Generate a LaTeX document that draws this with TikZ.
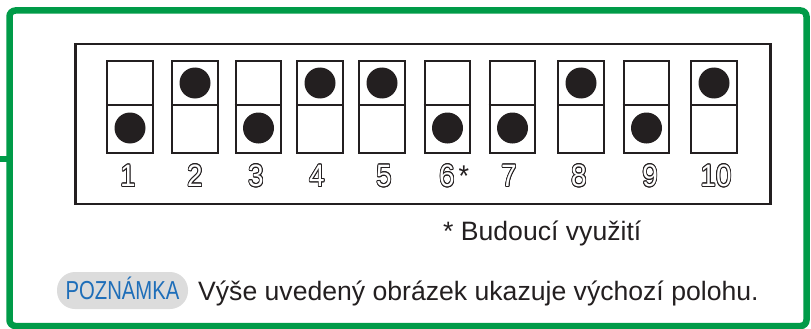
\documentclass[tikz,border=0pt]{standalone}
\usepackage{fontspec}
\setmainfont{Liberation Sans}
\newfontfamily\condfont[FakeStretch=0.78]{Liberation Sans}
\newfontfamily\digitfont[FakeStretch=0.9]{Liberation Sans}
\usepackage[copies]{contour}
\contourlength{0.75pt}
\definecolor{frameGreen}{RGB}{0,155,72}
\definecolor{ink}{RGB}{35,31,32}
\definecolor{noteBlue}{RGB}{30,110,185}
\definecolor{pillGray}{RGB}{220,220,220}
\begin{document}
\begin{tikzpicture}[x=1pt,y=-1pt,
  switchbox/.style={draw=ink, line width=2.4pt, minimum width=45.5pt, minimum height=91.5pt, inner sep=0pt},
  knob/.style={circle, fill=ink, minimum size=31pt, inner sep=0pt},
  digit/.style={anchor=base, inner sep=0pt, text=white, font=\digitfont\fontsize{31}{33}\selectfont},
  star/.style={anchor=base west, inner sep=0pt, text=ink, font=\digitfont\fontsize{30}{32}\selectfont},
  bodytext/.style={anchor=base west, inner sep=0pt, text=ink, font=\fontsize{26.6}{30}\selectfont},
  pill/.style={fill=pillGray, rounded corners=18pt, minimum width=131pt, minimum height=37pt, inner sep=0pt,
    text=noteBlue, text height=18.6pt, text depth=0pt, font=\condfont\fontsize{26}{30}\selectfont}]
\useasboundingbox (0,0) rectangle (811,329);
% green frame
\draw[frameGreen, line width=6.5pt, rounded corners=6pt] (9.5,10.5) rectangle (806.5,326);
\draw[frameGreen, line width=6.5pt] (0,159) -- (9.5,159);
% panel
\node[draw=ink, line width=2.5pt, minimum width=695pt, minimum height=160pt, inner sep=0pt] (panel) at (423,124) {};
% switches: index/center x/knob y
\foreach \i/\cx/\ky in {1/130/128, 2/195/83, 3/258.5/128, 4/320/83, 5/382/83,
                        6/447.5/128, 7/512.5/128, 8/581/83, 9/646.5/128, 10/714/83}{
  \node[switchbox] (sw\i) at (\cx,107) {};
  \draw[ink, line width=2.4pt] ([yshift=2pt]sw\i.west) -- ([yshift=2pt]sw\i.east);
  \node[knob] (knob\i) at (\cx,\ky) {};
}
\foreach \i/\lx in {1/128, 2/195, 3/256, 4/317, 5/384, 6/447, 7/509, 8/579, 9/650, 10/716}{
  \node[digit] (num\i) at (\lx,186.5) {\contour{ink}{\i}};
}
\node[star] (star6) at (458.5,186.5) {*};
% texts
\node[bodytext] (future) at (443,240) {* Budoucí využití};
\node[pill] (note) at (122.5,290.5) {POZNÁMKA};
\node[bodytext] (notetext) at (198,300) {Výše uvedený obrázek ukazuje výchozí polohu.};
\end{tikzpicture}
\end{document}
